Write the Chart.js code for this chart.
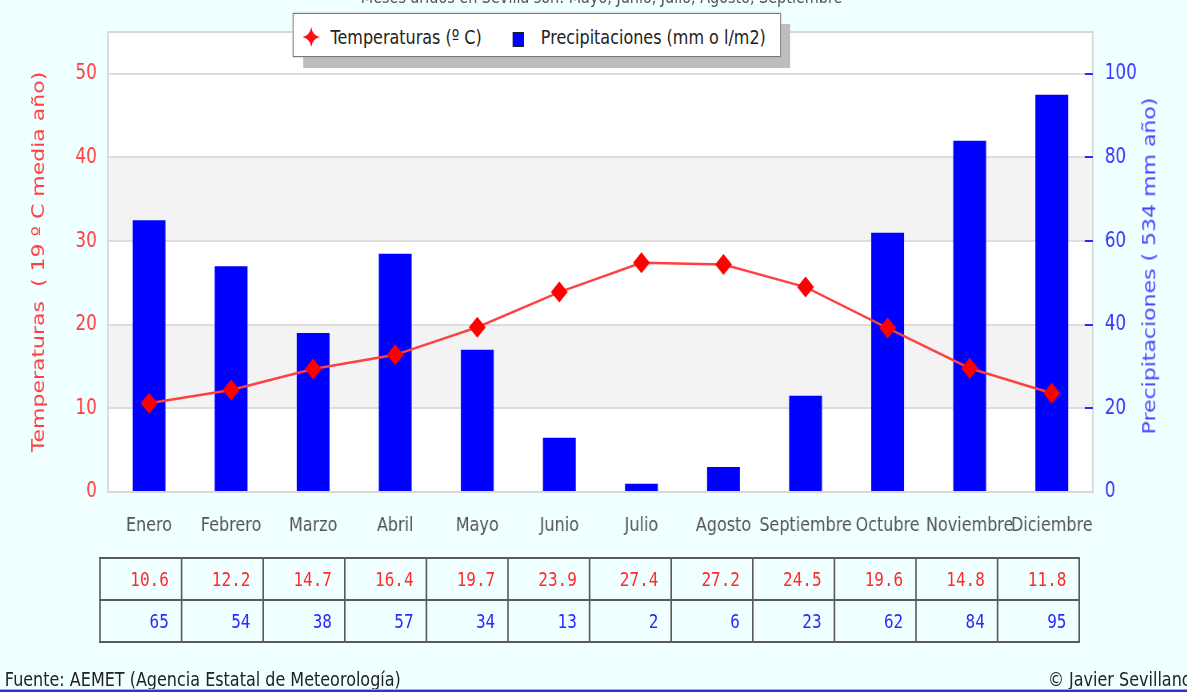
<!DOCTYPE html>
<html>
<head>
<meta charset="utf-8">
<script src="https://cdn.jsdelivr.net/npm/chart.js@4.4.1/dist/chart.umd.min.js"></script>
<style>
  html, body { margin:0; padding:0; width:1187px; height:692px; overflow:hidden; background:#f0ffff; }
  #page { position:absolute; left:0; top:0; width:1484px; height:692px; transform:scaleX(0.8); transform-origin:0 0; font-family:'DejaVu Sans', sans-serif; }
  #chartBox { position:absolute; left:0; top:0; width:1484px; height:545px; }
  #topTitle { position:absolute; left:752px; top:-13px; transform:translateX(-50%); font-size:18px; line-height:20px; color:#555; white-space:nowrap; }
  #legShadow { position:absolute; left:379px; top:24px; width:609px; height:44px; background:#bdbdbd; }
  #legend { position:absolute; left:366px; top:13px; width:608px; height:42px; background:#fff; border:1px solid #777; box-shadow:0 0 2px #aaa; }
  #legend span { position:absolute; top:11px; font-size:20px; line-height:24px; color:#222; white-space:nowrap; }
  #rTitle { position:absolute; left:1437px; top:266px; transform:translate(-50%,-50%) rotate(-90deg); font-size:22px; line-height:26px; color:#4545ff; white-space:nowrap; }
  #tbl { position:absolute; left:124px; top:557px; width:1226px; height:83px; border-collapse:collapse; border:2px solid #333; }
  #tbl td { border:2px solid #5a5a5a; text-align:right; padding:0 15px 0 0; font-family:'DejaVu Sans Mono', monospace; font-size:20px; height:40px; }
  .foot { position:absolute; top:667px; font-size:20px; line-height:24px; color:#222; white-space:nowrap; }
  #bline { position:absolute; left:0; top:689px; width:1484px; height:2px; background:#3030d0; border-top:1px solid #a0a0ff; }
</style>
</head>
<body>
<div id="page">
  <div id="topTitle">Meses áridos en Sevilla son: Mayo, Junio, Julio, Agosto, Septiembre</div>
  <div id="chartBox"><canvas id="c"></canvas></div>
  <div id="legShadow"></div>
  <div id="legend">
    <svg style="position:absolute;left:11px;top:13px" width="22" height="20" viewBox="0 0 22 20"><path d="M11 0 Q12.5 8.5 22 10 Q12.5 11.5 11 20 Q9.5 11.5 0 10 Q9.5 8.5 11 0 Z" fill="#ff1010"/></svg>
    <span style="left:46px">Temperaturas (º C)</span>
    <div style="position:absolute;left:274px;top:18px;width:14px;height:15px;background:#0000ff;border:1px solid #222;box-sizing:border-box"></div>
    <span style="left:309px">Precipitaciones (mm o l/m2)</span>
  </div>
  <div id="rTitle">Precipitaciones ( 534 mm año)</div>
  <table id="tbl"></table>
  <div class="foot" style="left:6px">Fuente: AEMET (Agencia Estatal de Meteorología)</div>
  <div class="foot" style="left:1310px">© Javier Sevillano</div>
  <div id="bline"></div>
</div>
<script>
const months = ['Enero','Febrero','Marzo','Abril','Mayo','Junio','Julio','Agosto','Septiembre','Octubre','Noviembre','Diciembre'];
const temperaturas = [10.6, 12.2, 14.7, 16.4, 19.7, 23.9, 27.4, 27.2, 24.5, 19.6, 14.8, 11.8];
const precipitaciones = [65, 54, 38, 57, 34, 13, 2, 6, 23, 62, 84, 95];
const tempTicks = [0, 10, 20, 30, 40, 50];
const precTicks = [0, 20, 40, 60, 80, 100];

// table
const tbl = document.getElementById('tbl');
const r1 = tbl.insertRow(), r2 = tbl.insertRow();
temperaturas.forEach(v => { const c = r1.insertCell(); c.textContent = v.toFixed(1); c.style.color = '#ff2a2a'; });
precipitaciones.forEach(v => { const c = r2.insertCell(); c.textContent = String(v); c.style.color = '#2a2aff'; });

const bands = [[10,20],[30,40]];
const deco = {
  id: 'deco',
  beforeDraw(chart) {
    const {ctx, chartArea: a, scales: {y}} = chart;
    ctx.save();
    ctx.fillStyle = '#ffffff';
    ctx.fillRect(a.left, a.top, a.right - a.left, a.bottom - a.top);
    ctx.fillStyle = '#f3f3f3';
    bands.forEach(([lo, hi]) => {
      const t = y.getPixelForValue(hi), b = y.getPixelForValue(lo);
      ctx.fillRect(a.left, t, a.right - a.left, b - t);
    });
    ctx.restore();
  },
  afterDraw(chart) {
    const {ctx, chartArea: a, scales: {y2}} = chart;
    ctx.save();
    ctx.strokeStyle = '#d8d8d8';
    ctx.lineWidth = 2;
    ctx.strokeRect(a.left, a.top, a.right - a.left, a.bottom - a.top);
    ctx.strokeStyle = '#2a2aff';
    ctx.lineWidth = 2;
    precTicks.filter(v => v > 0).forEach(v => {
      const py = Math.round(y2.getPixelForValue(v));
      ctx.beginPath(); ctx.moveTo(a.right - 10, py); ctx.lineTo(a.right, py); ctx.stroke();
    });
    ctx.restore();
  }
};

new Chart(document.getElementById('c'), {
  data: {
    labels: months,
    datasets: [
      { type: 'line', label: 'Temperaturas (º C)', data: temperaturas, yAxisID: 'y', order: 0,
        borderColor: '#ff4040', borderWidth: 2.5, pointStyle: 'rectRot', pointRadius: 10.5,
        pointBackgroundColor: '#ff0000', pointBorderColor: '#ff0000', pointBorderWidth: 0, tension: 0 },
      { type: 'bar', label: 'Precipitaciones (mm o l/m2)', data: precipitaciones, yAxisID: 'y2', order: 1,
        backgroundColor: '#0000ff', borderColor: '#3a3aff', borderWidth: 0,
        barPercentage: 0.4, categoryPercentage: 1 }
    ]
  },
  options: {
    responsive: true, maintainAspectRatio: false, animation: false,
    layout: { padding: { top: 32, left: 0, right: 0, bottom: 0 } },
    plugins: { legend: { display: false }, tooltip: { enabled: false } },
    scales: {
      x: {
        grid: { display: false }, border: { display: false },
        ticks: { color: '#555', font: { family: 'DejaVu Sans', size: 20 }, padding: 14, maxRotation: 0, autoSkip: false },
        afterFit(s) { s.height = 53; }
      },
      y: {
        position: 'left', min: 0, max: 55,
        afterBuildTicks(s) { s.ticks = tempTicks.map(v => ({ value: v })); },
        ticks: { color: '#ff3b3b', font: { family: 'DejaVu Sans', size: 21 }, padding: 14 },
        grid: { color: '#dddddd', lineWidth: 2, drawTicks: false },
        border: { display: false },
        title: { display: true, text: 'Temperaturas  ( 19 º C media año)', color: '#ff4040',
                 font: { family: 'DejaVu Sans', size: 22 }, padding: { top: 36, bottom: 0 } },
        afterFit(s) { s.width = 135; }
      },
      y2: {
        position: 'right', min: 0, max: 110,
        afterBuildTicks(s) { s.ticks = precTicks.map(v => ({ value: v })); },
        ticks: { color: '#3535ff', font: { family: 'DejaVu Sans', size: 21 }, padding: 15 },
        grid: { drawOnChartArea: false, drawTicks: false },
        border: { display: false },
        afterFit(s) { s.width = 118; }
      }
    }
  },
  plugins: [deco]
});
</script>
</body>
</html>
